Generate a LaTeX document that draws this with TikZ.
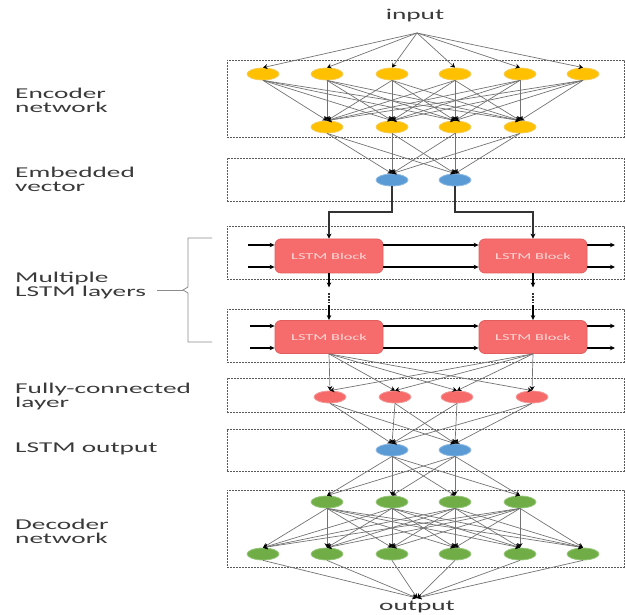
\documentclass[tikz,border=0pt]{standalone}
\usepackage{fontspec}
\setmainfont[FakeStretch=1.82]{Carlito}
\usetikzlibrary{arrows.meta,shapes.geometric}
\definecolor{cYel}{HTML}{FFC000}
\definecolor{cYelD}{HTML}{F3CC55}
\definecolor{cBlue}{HTML}{5B9BD5}
\definecolor{cBlueD}{HTML}{8DB9E2}
\definecolor{cRed}{HTML}{F76A6A}
\definecolor{cRedD}{HTML}{F29A9A}
\definecolor{cGreen}{HTML}{70AD47}
\definecolor{cGreenD}{HTML}{96C77A}
\definecolor{cBlock}{HTML}{F66B6B}
\definecolor{cBlockD}{HTML}{E25E5E}
\definecolor{cBlockT}{HTML}{FBDADA}
\definecolor{cText}{HTML}{3A3A3A}
\begin{document}
\begin{tikzpicture}[x=1pt,y=-1pt,
  layerbox/.style={draw=black!65, dash pattern=on 2pt off 1pt, line width=0.7pt, inner sep=0pt, minimum width=397pt},
  unit/.style={ellipse, minimum width=32pt, minimum height=12pt, inner sep=0pt, line width=0.8pt},
  yel/.style={unit, fill=cYel, draw=cYelD},
  blu/.style={unit, fill=cBlue, draw=cBlueD},
  red/.style={unit, fill=cRed, draw=cRedD},
  grn/.style={unit, fill=cGreen, draw=cGreenD},
  link/.style={draw=black!55, line width=0.7pt, -{Stealth[length=4.5pt,width=5pt,black]}},
  feed/.style={draw=black!80, line width=1.8pt, -{Stealth[length=5pt,width=5pt,black]}},
  harrow/.style={draw=black, line width=1.1pt, -{Stealth[length=5pt,width=4.5pt]}},
  dotsline/.style={draw=black!80, line width=1.6pt, dash pattern=on 1.5pt off 1.5pt},
  lstmblock/.style={rectangle, rounded corners=6pt, fill=cBlock, draw=cBlockD, line width=0.8pt,
    minimum width=108pt, inner sep=0pt, text=cBlockT, font=\fontsize{9}{10}\selectfont},
  sidelabel/.style={anchor=west, align=left, inner sep=0pt, text=cText, font=\fontsize{15}{14}\selectfont},
  toplabel/.style={inner sep=0pt, text=cText, font=\fontsize{15}{14}\selectfont}
]
\useasboundingbox (0,0) rectangle (625,615);

% layer boxes
\node[layerbox, minimum height=77pt] (encbox) at (425.5,98.5) {};
\node[layerbox, minimum height=43pt] (embbox) at (425.5,179.5) {};
\node[layerbox, minimum height=53pt] (lstmboxA) at (425.5,252.5) {};
\node[layerbox, minimum height=53pt] (lstmboxB) at (425.5,335.5) {};
\node[layerbox, minimum height=34pt] (fcbox) at (425.5,395) {};
\node[layerbox, minimum height=42pt] (outbox) at (425.5,450) {};
\node[layerbox, minimum height=77pt] (decbox) at (425.5,528.5) {};

% side labels
\node[sidelabel] (lenc) at (15,100) {Encoder\\network};
\node[sidelabel] (lemb) at (15,179) {Embedded\\vector};
\node[sidelabel] (llstm) at (15,286) {Multiple\\LSTM layers};
\node[sidelabel] (lfc) at (15,397) {Fully-connected\\layer};
\node[sidelabel] (lout) at (15,449) {LSTM output};
\node[sidelabel] (ldec) at (15,531) {Decoder\\network};

% brace
\coordinate (brtop) at (212,238);
\coordinate (brbot) at (212,342);
\coordinate (brtip) at (183,290);
\coordinate (brtail) at (157,290);
\draw[black!45, line width=0.8pt] (brtop) -- (188,238) -- (188,287) -- (brtip) -- (188,293) -- (188,342) -- (brbot);
\draw[black!45, line width=0.8pt] (brtail) -- (brtip);

% input / output
\node[toplabel] (inlabel) at (415,16) {input};
\coordinate (inp) at (417,33);
\node[toplabel] (outlabel) at (417,607) {output};
\coordinate (outp) at (417,598);

% encoder
\foreach \i/\x in {1/263,2/327,3/392,4/455,5/520,6/583} \node[yel] (e\i) at (\x,74) {};
\foreach \i/\x in {1/327,2/392,3/455,4/520} \node[yel] (f\i) at (\x,127) {};
% embedded
\node[blu] (v1) at (392,180) {};
\node[blu] (v2) at (455,180) {};
% LSTM blocks
\node[lstmblock, minimum height=34pt] (A1) at (329,256) {LSTM Block};
\node[lstmblock, minimum height=34pt] (B1) at (533,256) {LSTM Block};
\node[lstmblock, minimum height=33pt] (A2) at (329,337) {LSTM Block};
\node[lstmblock, minimum height=33pt] (B2) at (533,337) {LSTM Block};
% FC
\foreach \i/\x in {1/330,2/395,3/457,4/532} \node[red] (r\i) at (\x,397) {};
% LSTM output
\node[blu] (o1) at (392,450) {};
\node[blu] (o2) at (455,450) {};
% decoder
\foreach \i/\x in {1/327,2/392,3/455,4/520} \node[grn] (d\i) at (\x,502) {};
\foreach \i/\x in {1/263,2/327,3/392,4/455,5/520,6/583} \node[grn] (g\i) at (\x,554) {};

% connections
\foreach \i in {1,...,6} \draw[link] (inp) -- (e\i.north);
\foreach \i in {1,...,6} \foreach \j in {1,...,4} \draw[link] (e\i.south) -- (f\j.north);
\foreach \i in {1,...,4} \foreach \j in {1,2} \draw[link] (f\i.south) -- (v\j.north);

\coordinate (route) at (0,212);
\draw[feed] (v1.south) -- (v1.south |- route) -| (A1.north);
\draw[feed] (v2.south) -- (v2.south |- route) -| (B1.north);

% horizontal LSTM arrows
\coordinate (inA1t) at (248,245);
\coordinate (inA1b) at (248,267);
\coordinate (outB1t) at (615,245);
\coordinate (outB1b) at (615,267);
\coordinate (inA2t) at (250,326);
\coordinate (inA2b) at (250,348);
\coordinate (outB2t) at (615,326);
\coordinate (outB2b) at (615,348);
\draw[harrow] (inA1t) -- (inA1t -| A1.west);
\draw[harrow] (inA1b) -- (inA1b -| A1.west);
\draw[harrow] (inA1t -| A1.east) -- (inA1t -| B1.west);
\draw[harrow] (inA1b -| A1.east) -- (inA1b -| B1.west);
\draw[harrow] (outB1t -| B1.east) -- (outB1t);
\draw[harrow] (outB1b -| B1.east) -- (outB1b);
\draw[harrow] (inA2t) -- (inA2t -| A2.west);
\draw[harrow] (inA2b) -- (inA2b -| A2.west);
\draw[harrow] (inA2t -| A2.east) -- (inA2t -| B2.west);
\draw[harrow] (inA2b -| A2.east) -- (inA2b -| B2.west);
\draw[harrow] (outB2t -| B2.east) -- (outB2t);
\draw[harrow] (outB2b -| B2.east) -- (outB2b);

% vertical between LSTM layers
\foreach \b in {A,B} {
  \coordinate (\b dn) at ([yshift=-14pt]\b1.south);
  \coordinate (\b dota) at ([yshift=-20pt]\b1.south);
  \coordinate (\b dotb) at ([yshift=-30pt]\b1.south);
  \coordinate (\b up) at ([yshift=15pt]\b2.north);
  \draw[harrow] (\b1.south) -- (\b dn);
  \draw[dotsline] (\b dota) -- (\b dotb);
  \draw[harrow] (\b up) -- (\b2.north);
}

% LSTM -> FC
\foreach \b in {A2,B2} \foreach \j in {1,...,4} \draw[link] (\b.south) -- (r\j.north);
% FC -> LSTM output
\foreach \i in {1,...,4} \foreach \j in {1,2} \draw[link] (r\i.south) -- (o\j.north);
% LSTM output -> decoder
\foreach \i in {1,2} \foreach \j in {1,...,4} \draw[link] (o\i.south) -- (d\j.north);
\foreach \i in {1,...,4} \foreach \j in {1,...,6} \draw[link] (d\i.south) -- (g\j.north);
\foreach \i in {1,...,6} \draw[link] (g\i.south) -- (outp);
\end{tikzpicture}
\end{document}
